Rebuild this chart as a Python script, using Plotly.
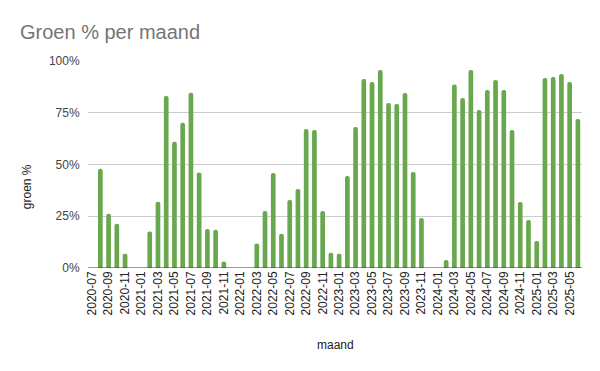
import plotly.graph_objects as go

months = [f"{y}-{m:02d}" for y in range(2020, 2026) for m in range(1, 13)]
months = months[months.index("2020-07"):months.index("2025-06") + 1]

groen_pct = [
    None, 48.0, 26.2, 21.4, 6.9, None,            # 2020-07 .. 2020-12
    None, 17.6, 32.0, 83.1, 61.0, 70.2,           # 2021-01 .. 2021-06
    84.7, 46.1, 18.8, 18.5, 3.1, None,            # 2021-07 .. 2021-12
    None, None, 11.8, 27.5, 45.9, 16.6,           # 2022-01 .. 2022-06
    32.9, 38.2, 67.1, 66.7, 27.5, 7.4,            # 2022-07 .. 2022-12
    6.9, 44.4, 68.1, 91.3, 89.9, 95.7,            # 2023-01 .. 2023-06
    79.7, 79.2, 84.5, 46.4, 24.2, None,           # 2023-07 .. 2023-12
    None, 3.9, 88.6, 82.1, 95.7, 76.3,            # 2024-01 .. 2024-06
    86.0, 90.8, 86.0, 66.7, 31.9, 23.2,           # 2024-07 .. 2024-12
    13.0, 91.8, 92.3, 93.7, 89.9, 72.0,           # 2025-01 .. 2025-06
]
y_vals = [None if v is None else v / 100 for v in groen_pct]
tick_months = months[::2]
y_ticks = [0, 0.25, 0.5, 0.75, 1.0]

FONT = "Liberation Sans, Arial, sans-serif"

fig = go.Figure(go.Bar(
    x=months, y=y_vals,
    marker=dict(color="#6aa84f", cornerradius=2, line=dict(width=0)),
    width=0.57,
))

fig.update_layout(
    width=600, height=371,
    margin=dict(l=88, r=18, t=61, b=103),
    paper_bgcolor="white", plot_bgcolor="white",
    font=dict(family=FONT, size=12, color="#222222"),
    showlegend=False,
    title=dict(text="Groen % per maand", x=20 / 600, xanchor="left",
               y=1 - 32 / 371, yanchor="middle", yref="container",
               font=dict(family=FONT, size=20, color="#757575")),
    xaxis=dict(type="category", categoryorder="array", categoryarray=months,
               tickmode="array", tickvals=tick_months, ticktext=tick_months,
               tickangle=-90, showgrid=False, showline=False, zeroline=False,
               ticks="", tickfont=dict(size=12, color="#222222"),
               range=[-0.5, len(months) - 0.5]),
    yaxis=dict(range=[0, 1], tickmode="array", tickvals=y_ticks, tickformat=".0%",
               showgrid=True, gridcolor="#cccccc", gridwidth=1,
               zeroline=False, showline=False, ticks="outside", ticklen=5,
               tickcolor="rgba(0,0,0,0)",
               tickfont=dict(size=12, color="#444444")),
    shapes=[dict(type="line", xref="paper", yref="y", x0=0, x1=1, y0=0, y1=0,
                 line=dict(color="#333333", width=1))],
    annotations=[
        dict(text="groen %", xref="paper", yref="paper", x=(27 - 88) / 494,
             y=(268.3 - 187.5) / 207, textangle=-90, showarrow=False,
             xanchor="center", yanchor="middle",
             font=dict(family=FONT, size=12, color="#222222")),
        dict(text="maand", xref="paper", yref="paper", x=0.5,
             y=(268.3 - 345) / 207, showarrow=False,
             xanchor="center", yanchor="middle",
             font=dict(family=FONT, size=12, color="#222222")),
    ],
)

fig.write_html("out.html")
